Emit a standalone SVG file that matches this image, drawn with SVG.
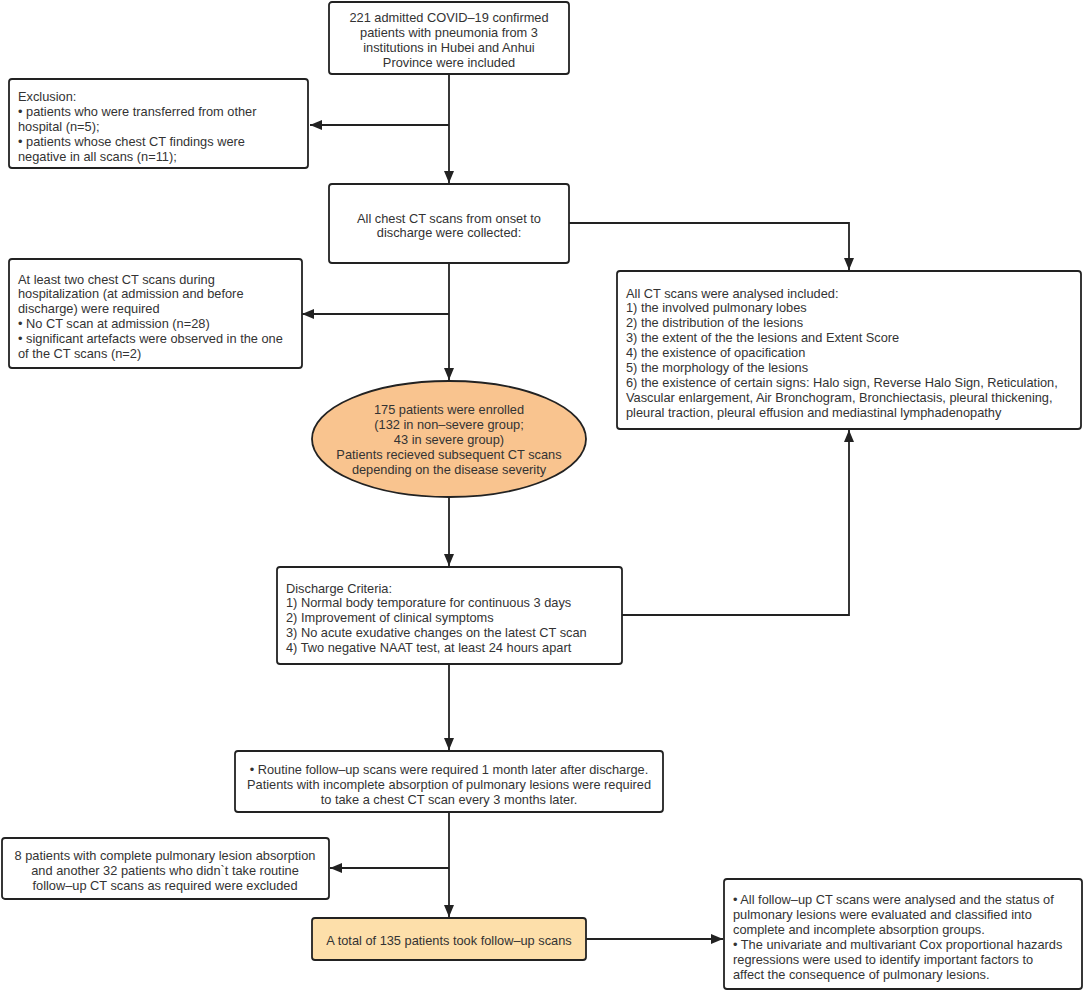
<svg xmlns="http://www.w3.org/2000/svg" width="1084" height="992" viewBox="0 0 1084 992">
<defs>
<marker id="ah" markerUnits="userSpaceOnUse" markerWidth="12" markerHeight="10" refX="12" refY="5" orient="auto">
<path d="M0,0 L12,5 L0,10 Z" fill="#222"/>
</marker>
<style>
.box{fill:#fff;stroke:#222;stroke-width:1.8}
.ell{fill:#f9c48f;stroke:#222;stroke-width:1.8}
.tot{fill:#fddfaa;stroke:#222;stroke-width:1.8}
text{font-family:"Liberation Sans",Arial,sans-serif;font-size:12.8px;fill:#333}
.c{text-anchor:middle}
.cn{fill:none;stroke:#222;stroke-width:1.8}
</style>
</defs>
<rect width="1084" height="992" fill="#fff"/>
<g id="connectors">
<path class="cn" d="M449,74 V183" marker-end="url(#ah)"/>
<path class="cn" d="M449,125 H310" marker-end="url(#ah)"/>
<path class="cn" d="M449,263 V380" marker-end="url(#ah)"/>
<path class="cn" d="M449,314 H302" marker-end="url(#ah)"/>
<path class="cn" d="M569,223 H849 V270" marker-end="url(#ah)"/>
<path class="cn" d="M449,497 V566" marker-end="url(#ah)"/>
<path class="cn" d="M622,615 H849 V430" marker-end="url(#ah)"/>
<path class="cn" d="M449,664 V750" marker-end="url(#ah)"/>
<path class="cn" d="M449,812 V917" marker-end="url(#ah)"/>
<path class="cn" d="M449,868 H330" marker-end="url(#ah)"/>
<path class="cn" d="M586,939 H723" marker-end="url(#ah)"/>
</g>
<g id="n1">
<rect class="box" x="329" y="2" width="240" height="72" rx="3"/>
<text class="c" x="449" y="21.5">221 admitted COVID–19 confirmed</text>
<text class="c" x="449" y="36.5">patients with pneumonia from 3</text>
<text class="c" x="449" y="51.5">institutions in Hubei and Anhui</text>
<text class="c" x="449" y="66.5">Province were included</text>
</g>
<g id="n2">
<rect class="box" x="9" y="79" width="299" height="89" rx="3"/>
<text x="18" y="101">Exclusion:</text>
<text x="18" y="116">• patients who were transferred from other</text>
<text x="18" y="131">hospital (n=5);</text>
<text x="18" y="146">• patients whose chest CT findings were</text>
<text x="18" y="161">negative in all scans (n=11);</text>
</g>
<g id="n3">
<rect class="box" x="329" y="184" width="240" height="79" rx="3"/>
<text class="c" x="449" y="222.5">All chest CT scans from onset to</text>
<text class="c" x="449" y="236.5">discharge were collected:</text>
</g>
<g id="n4">
<rect class="box" x="617" y="271" width="464" height="158" rx="3"/>
<text x="626" y="297.5">All CT scans were analysed included:</text>
<text x="626" y="312.4">1) the involved pulmonary lobes</text>
<text x="626" y="327.3">2) the distribution of the lesions</text>
<text x="626" y="342.2">3) the extent of the the lesions and Extent Score</text>
<text x="626" y="357.1">4) the existence of opacification</text>
<text x="626" y="372">5) the morphology of the lesions</text>
<text x="626" y="386.9">6) the existence of certain signs: Halo sign, Reverse Halo Sign, Reticulation,</text>
<text x="626" y="401.8">Vascular enlargement, Air Bronchogram, Bronchiectasis, pleural thickening,</text>
<text x="626" y="416.7">pleural traction, pleural effusion and mediastinal lymphadenopathy</text>
</g>
<g id="n5">
<rect class="box" x="9" y="259" width="293" height="109" rx="3"/>
<text x="18" y="283.5">At least two chest CT scans during</text>
<text x="18" y="298.3">hospitalization (at admission and before</text>
<text x="18" y="313.1">discharge) were required</text>
<text x="18" y="327.9">• No CT scan at admission (n=28)</text>
<text x="18" y="342.7">• significant artefacts were observed in the one</text>
<text x="18" y="357.5">of the CT scans (n=2)</text>
</g>
<g id="n6">
<ellipse class="ell" cx="449" cy="439" rx="137" ry="58"/>
<text class="c" x="449" y="413.5">175 patients were enrolled</text>
<text class="c" x="449" y="428.5">(132 in non–severe group;</text>
<text class="c" x="449" y="443.5">43 in severe group)</text>
<text class="c" x="449" y="458.5">Patients recieved subsequent CT scans</text>
<text class="c" x="449" y="473.5">depending on the disease severity</text>
</g>
<g id="n7">
<rect class="box" x="277" y="567" width="345" height="97" rx="3"/>
<text x="286" y="592.5">Discharge Criteria:</text>
<text x="286" y="607.3">1) Normal body temporature for continuous 3 days</text>
<text x="286" y="622.1">2) Improvement of clinical symptoms</text>
<text x="286" y="636.9">3) No acute exudative changes on the latest CT scan</text>
<text x="286" y="651.7">4) Two negative NAAT test, at least 24 hours apart</text>
</g>
<g id="n8">
<rect class="box" x="235" y="751" width="428" height="61" rx="3"/>
<text class="c" x="449" y="773.5">• Routine follow–up scans were required 1 month later after discharge.</text>
<text class="c" x="449" y="788.5">Patients with incomplete absorption of pulmonary lesions were required</text>
<text class="c" x="449" y="803.5">to take a chest CT scan every 3 months later.</text>
</g>
<g id="n9">
<rect class="box" x="2" y="838" width="327" height="61" rx="3"/>
<text class="c" x="165" y="859.5">8 patients with complete pulmonary lesion absorption</text>
<text class="c" x="165" y="874.5">and another 32 patients who didn`t take routine</text>
<text class="c" x="165" y="889.5">follow–up CT scans as required were excluded</text>
</g>
<g id="n10">
<rect class="tot" x="312" y="918" width="274" height="42" rx="3"/>
<text class="c" x="449" y="945">A total of 135 patients took follow–up scans</text>
</g>
<g id="n11">
<rect class="box" x="724" y="879" width="358" height="110" rx="3"/>
<text x="733" y="903.5">• All follow–up CT scans were analysed and the status of</text>
<text x="733" y="918.5">pulmonary lesions were evaluated and classified into</text>
<text x="733" y="933.5">complete and incomplete absorption groups.</text>
<text x="733" y="948.5">• The univariate and multivariant Cox proportional hazards</text>
<text x="733" y="963.5">regressions were used to identify important factors to</text>
<text x="733" y="978.5">affect the consequence of pulmonary lesions.</text>
</g>
</svg>
